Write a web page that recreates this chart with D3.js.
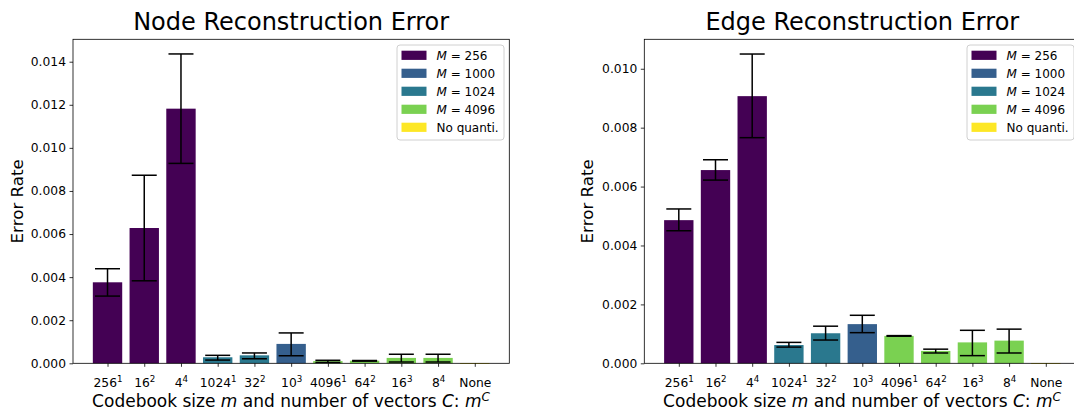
<!DOCTYPE html>
<html>
<head>
<meta charset="utf-8">
<script src="https://cdn.jsdelivr.net/npm/d3@7"></script>
<style>
  body { margin: 0; background: #fff; }
  svg text { font-family: "DejaVu Sans", sans-serif; fill: #000; }
</style>
</head>
<body>
<div class="container"></div>
<script>
const WIDTH = 1074;
const HEIGHT = 413;

// tick labels: base and exponent
const tickBases = ["256", "16", "4", "1024", "32", "10", "4096", "64", "16", "8", "None"];
const tickExps  = ["1", "2", "4", "1", "2", "3", "1", "2", "3", "4", ""];
// group of each bar (index into legendLabels)
const barGroups = [0, 0, 0, 2, 2, 1, 3, 3, 3, 3, 4];
const legendLabels = ["256", "1000", "1024", "4096", "No quanti."];
const groupColors = ["#440154", "#355f8d", "#2a788e", "#7ad151", "#fde725"];

const nodeValues = [0.00376, 0.00628, 0.01182, 0.00028, 0.00037, 0.00090, 0.00010, 0.00012, 0.00025, 0.00025, 0.00001];
const nodeLow    = [0.00312, 0.00383, 0.00928, 0.00015, 0.00021, 0.00035, 0.00004, 0.00010, 0.00006, 0.00006, null];
const nodeHigh   = [0.00439, 0.00873, 0.01436, 0.00037, 0.00048, 0.00141, 0.00014, 0.00013, 0.00042, 0.00042, null];
const nodeTicks  = [0, 0.002, 0.004, 0.006, 0.008, 0.010, 0.012, 0.014];

const edgeValues = [0.00486, 0.00656, 0.00907, 0.00062, 0.00102, 0.00133, 0.00093, 0.00042, 0.00071, 0.00077, 0.00001];
const edgeLow    = [0.00450, 0.00622, 0.00766, 0.00055, 0.00079, 0.00104, 0.00092, 0.00035, 0.00026, 0.00035, null];
const edgeHigh   = [0.00524, 0.00691, 0.01050, 0.00071, 0.00126, 0.00163, 0.00094, 0.00048, 0.00112, 0.00116, null];
const edgeTicks  = [0, 0.002, 0.004, 0.006, 0.008, 0.010];

const TOP = 39.3;
const BOTTOM = 363.3;

var svg = d3.select('.container').append('svg')
    .attr('width', WIDTH)
    .attr('height', HEIGHT);

var drawPanel = function(opts) {
    var x = d3.scaleLinear().domain([-0.94, 10.94]).range([opts.left, opts.right]);
    var y = d3.scaleLinear().domain([0, opts.ymax]).range([BOTTOM, TOP]);
    var g = svg.append('g');

    var data = opts.values.map(function(v, i) {
        return {i: i, v: v, lo: opts.low[i], hi: opts.high[i], grp: barGroups[i]};
    });

    // bars
    g.append('g').selectAll('rect')
        .data(data)
        .enter()
        .append('rect')
        .attr('x', function(d) { return x(d.i - 0.4); })
        .attr('width', function(d) { return x(d.i + 0.4) - x(d.i - 0.4); })
        .attr('y', function(d) { return y(d.v); })
        .attr('height', function(d) { return Math.max(y(0) - y(d.v), 0.8); })
        .attr('fill', function(d) { return groupColors[d.grp]; });

    // error bars
    var eb = g.append('g').selectAll('g')
        .data(data.filter(function(d) { return d.lo != null; }))
        .enter()
        .append('g')
        .attr('stroke', '#000')
        .attr('stroke-width', 1.5);
    eb.append('line')
        .attr('x1', function(d) { return x(d.i); })
        .attr('x2', function(d) { return x(d.i); })
        .attr('y1', function(d) { return y(d.lo); })
        .attr('y2', function(d) { return y(d.hi); });
    [['lo'], ['hi']].forEach(function(k) {
        eb.append('line')
            .attr('x1', function(d) { return x(d.i) - 12.5; })
            .attr('x2', function(d) { return x(d.i) + 12.5; })
            .attr('y1', function(d) { return y(d[k[0]]); })
            .attr('y2', function(d) { return y(d[k[0]]); });
    });

    // y axis
    var yAxis = d3.axisLeft(y).tickValues(opts.ticks).tickSize(3.5).tickPadding(3.5)
        .tickFormat(d3.format('.3f'));
    var ya = g.append('g').attr('transform', 'translate(' + opts.left + ',0)').call(yAxis);
    ya.select('.domain').remove();
    ya.selectAll('text').attr('font-size', 12.3).attr('fill', '#000');
    ya.selectAll('line').attr('stroke', '#000').attr('stroke-width', 0.8);

    // x axis
    var xAxis = d3.axisBottom(x).tickValues(d3.range(tickBases.length)).tickSize(3.5).tickPadding(3.5)
        .tickFormat('');
    var xa = g.append('g').attr('transform', 'translate(0,' + BOTTOM + ')').call(xAxis);
    xa.select('.domain').remove();
    xa.selectAll('line').attr('stroke', '#000').attr('stroke-width', 0.8);
    xa.selectAll('.tick').append('text')
        .attr('y', 23.3)
        .attr('text-anchor', 'middle')
        .attr('font-size', 12.3)
        .attr('fill', '#000')
        .each(function(d) {
            var t = d3.select(this);
            t.append('tspan').text(tickBases[d]);
            if (tickExps[d]) {
                t.append('tspan').attr('dy', -5).attr('font-size', 8.7).text(tickExps[d]);
            }
        });

    // frame
    g.append('rect')
        .attr('x', opts.left).attr('y', TOP)
        .attr('width', opts.right - opts.left).attr('height', BOTTOM - TOP)
        .attr('fill', 'none').attr('stroke', '#000').attr('stroke-width', 0.8);

    // title
    g.append('text')
        .attr('x', (opts.left + opts.right) / 2)
        .attr('y', 30)
        .attr('text-anchor', 'middle')
        .attr('font-size', 24)
        .text(opts.title);

    // y label
    g.append('text')
        .attr('transform', 'translate(' + opts.ylabelX + ',' + (TOP + BOTTOM) / 2 + ') rotate(-90)')
        .attr('text-anchor', 'middle')
        .attr('font-size', 16.7)
        .text('Error Rate');

    // x label
    var xl = g.append('text')
        .attr('x', opts.xlabelX)
        .attr('y', 407)
        .attr('text-anchor', 'middle')
        .attr('font-size', 17);
    xl.append('tspan').text('Codebook size ');
    xl.append('tspan').attr('font-style', 'italic').text('m');
    xl.append('tspan').text(' and number of vectors ');
    xl.append('tspan').attr('font-style', 'italic').text('C');
    xl.append('tspan').text(': ');
    xl.append('tspan').attr('font-style', 'italic').text('m');
    xl.append('tspan').attr('font-style', 'italic').attr('dy', -6.5).attr('font-size', 12).text('C');

    // legend
    var lg = g.append('g').attr('transform', 'translate(' + opts.legendX + ',45)');
    lg.append('rect')
        .attr('width', 107).attr('height', 95)
        .attr('rx', 3)
        .attr('fill', '#fff').attr('fill-opacity', 0.8)
        .attr('stroke', '#d0d0d0').attr('stroke-width', 1);
    var items = lg.selectAll('g.item')
        .data(legendLabels)
        .enter()
        .append('g')
        .attr('transform', function(d, i) { return 'translate(0,' + (10.3 + i * 18) + ')'; });
    items.append('rect')
        .attr('x', 4.5).attr('y', -4.6)
        .attr('width', 25).attr('height', 9.2)
        .attr('fill', function(d, i) { return groupColors[i]; });
    items.append('text')
        .attr('x', 39.5)
        .attr('y', 4.3)
        .attr('font-size', 12)
        .each(function(d, i) {
            var t = d3.select(this);
            if (i < 4) {
                t.append('tspan').attr('font-style', 'italic').text('M');
                t.append('tspan').text(' = ' + d);
            } else {
                t.text(d);
            }
        });
};

drawPanel({left: 73, right: 509.3, ymax: 0.01504, ticks: nodeTicks,
    values: nodeValues, low: nodeLow, high: nodeHigh,
    title: 'Node Reconstruction Error', ylabelX: 22.5, xlabelX: 291, legendX: 397});
drawPanel({left: 644.3, right: 1080.3, ymax: 0.0110, ticks: edgeTicks,
    values: edgeValues, low: edgeLow, high: edgeHigh,
    title: 'Edge Reconstruction Error', ylabelX: 593, xlabelX: 862, legendX: 967});
</script>
</body>
</html>
